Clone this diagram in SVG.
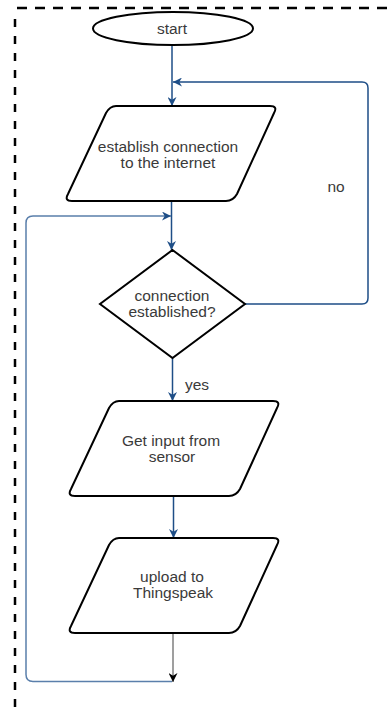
<svg xmlns="http://www.w3.org/2000/svg" width="387" height="713" viewBox="0 0 387 713">
  <defs>
    <style>
      .shape { fill: #ffffff; stroke: #000000; stroke-width: 2; }
      .label { font-family: "Liberation Sans", Arial, sans-serif; font-size: 15.5px; fill: #3a3a3a; text-anchor: middle; }
      .flow { fill: none; stroke: #1e4e87; stroke-width: 1.5; }
      .flow-light { fill: none; stroke: #5a7fab; stroke-width: 1.5; }
      .flow-gray { fill: none; stroke: #7f7f7f; stroke-width: 1.5; }
      .frame { fill: none; stroke: #000000; stroke-width: 2.5; }
    </style>
    <marker id="arrow-blue" viewBox="0 0 10 10" refX="10" refY="5" markerWidth="9" markerHeight="9" markerUnits="userSpaceOnUse" orient="auto">
      <path d="M0,0 L10,5 L0,10 L3,5 Z" fill="#1e4e87"/>
    </marker>
    <marker id="arrow-black" viewBox="0 0 10 10" refX="10" refY="5" markerWidth="9" markerHeight="9" markerUnits="userSpaceOnUse" orient="auto">
      <path d="M0,0 L10,5 L0,10 L3,5 Z" fill="#000000"/>
    </marker>
    <path id="para" d="M6,0 L160,0 Q168,0 164,7 L127,88 Q123,95 116,95 L-38,95 Q-46,95 -42,88 L-4,7 Q0,0 6,0 Z"/>
  </defs>

  <!-- dashed frame -->
  <line class="frame" x1="17" y1="8" x2="387" y2="8" stroke-dasharray="10 8"/>
  <line class="frame" x1="15" y1="19" x2="15" y2="713" stroke-dasharray="8 9"/>

  <!-- connectors -->
  <g id="connectors">
    <line class="flow" x1="172" y1="45" x2="172" y2="106" marker-end="url(#arrow-blue)"/>
    <path class="flow" d="M245,304 L362,304 Q368,304 368,298 L368,88 Q368,82 362,82 L173,82" marker-end="url(#arrow-blue)"/>
    <line class="flow" x1="171.5" y1="201" x2="171.5" y2="250" marker-end="url(#arrow-blue)"/>
    <path class="flow-light" d="M172,681.5 L33,681.5 Q26,681.5 26,674.5 L26,223 Q26,216 33,216 L171,216" marker-end="url(#arrow-blue)"/>
    <line class="flow" x1="172.5" y1="358" x2="172.5" y2="401" marker-end="url(#arrow-blue)"/>
    <line class="flow" x1="173.5" y1="496" x2="173.5" y2="538" marker-end="url(#arrow-blue)"/>
    <line class="flow-gray" x1="173" y1="633" x2="173" y2="682" marker-end="url(#arrow-black)"/>
    <text class="label" x="336" y="191.5">no</text>
    <text class="label" x="197" y="389.5">yes</text>
  </g>

  <g id="start">
    <ellipse class="shape" cx="173" cy="28.5" rx="80" ry="16.5"/>
    <text class="label" x="172" y="34">start</text>
  </g>

  <g id="establish">
    <use href="#para" class="shape" x="110" y="106"/>
    <text class="label" x="168" y="151.5">establish connection</text>
    <text class="label" x="168" y="167.5">to the internet</text>
  </g>

  <g id="check">
    <polygon class="shape" points="172.5,250 245,304 172.5,358 100,304"/>
    <text class="label" x="172" y="301">connection</text>
    <text class="label" x="172" y="317">established?</text>
  </g>

  <g id="read-sensor">
    <use href="#para" class="shape" x="113" y="401"/>
    <text class="label" x="171" y="445.5">Get input from</text>
    <text class="label" x="172" y="461.5">sensor</text>
  </g>

  <g id="upload">
    <use href="#para" class="shape" x="113" y="538"/>
    <text class="label" x="172" y="582">upload to</text>
    <text class="label" x="173" y="598">Thingspeak</text>
  </g>
</svg>
